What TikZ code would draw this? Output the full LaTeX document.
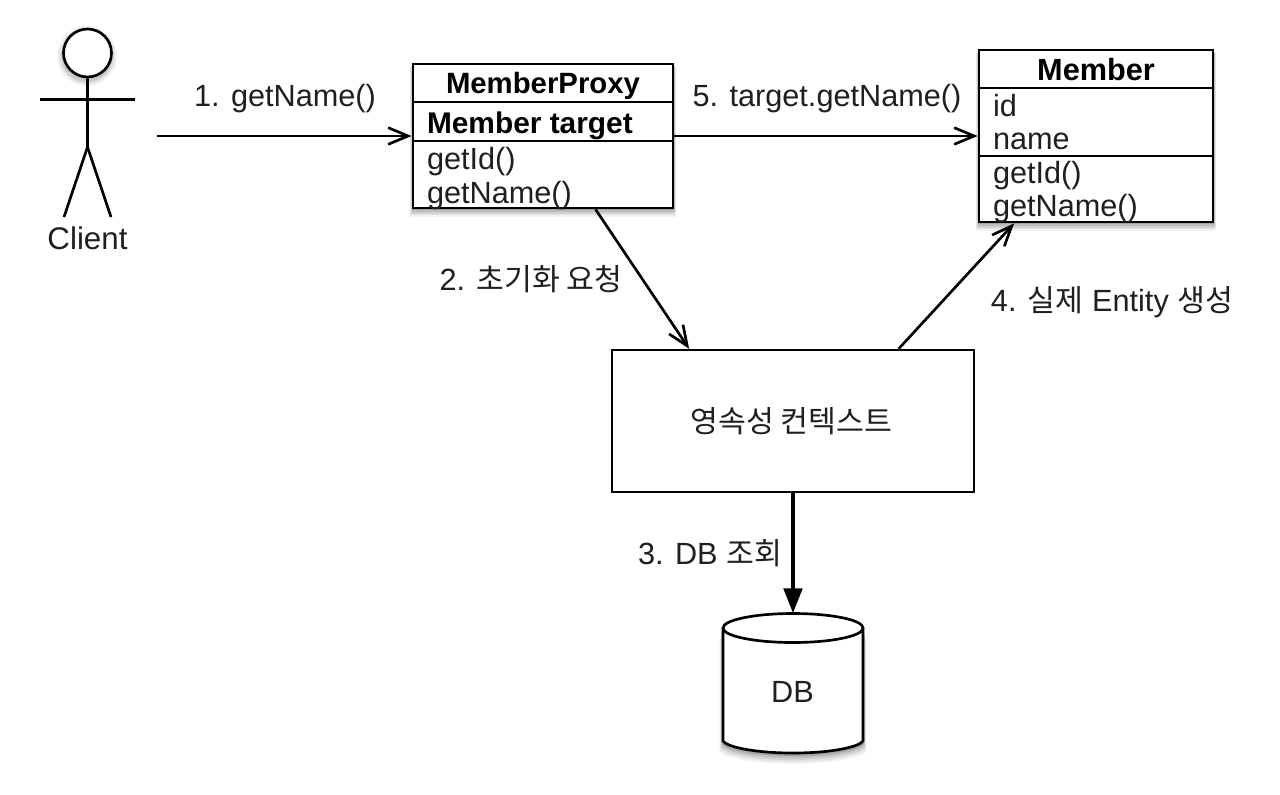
\documentclass[tikz,border=0pt]{standalone}
\usepackage{fontspec}
\setmainfont{Liberation Sans}
\newfontfamily\kofont{Noto Sans CJK KR}
\newcommand{\ko}[1]{{\kofont\fontsize{22.7pt}{26pt}\selectfont #1}}
\usetikzlibrary{arrows.meta,calc}
\tikzset{
  x=0.75pt,y=-0.75pt,
  ln/.style={line width=2pt,black},
  open/.style={ln,-{Straight Barb[length=15pt,width=12.5pt,line width=2pt]}},
  solidtip/.style={line width=2.4pt,black,-{Triangle[length=18.5pt,width=14pt]}},
  txt/.style={inner sep=0pt,outer sep=0pt,anchor=base,font=\fontsize{23pt}{26pt}\selectfont,text=black!88},
  ttl/.style={txt,text=black,font=\fontsize{22pt}{26pt}\selectfont\bfseries},
  lft/.style={txt,anchor=base west},
  box/.style={draw=black,line width=2.1pt,fill=white,inner sep=0pt},
}
\newcommand{\softshadow}[2]{%
  \foreach \o/\g in {11/0.05,9/0.06,7/0.08,5/0.1,3/0.14}{
    \fill[black,opacity=\g] ($#1+(-\o*0.3,\o*0.3)$) rectangle ($#2+(\o*0.3,\o*0.8)$);
  }}
\begin{document}
\begin{tikzpicture}
\useasboundingbox (0,0) rectangle (1280,794);
\softshadow{(413,64)}{(673,208)}
\softshadow{(979,50)}{(1213,222)}
\foreach \o/\g in {11/0.05,9/0.06,7/0.08,5/0.1,3/0.14}{
  \fill[black,opacity=\g,shift={(0,\o)}] (723-\o*0.3,628) -- (723-\o*0.3,741) .. controls (727,747) and (755,753) .. (793,753) .. controls (831,753) and (859,747) .. (863+\o*0.3,741) -- (863+\o*0.3,628) -- cycle;
}
\foreach \r/\g in {30/0.05,28/0.07,26/0.1}{
  \fill[black,opacity=\g] (87,56) circle[radius=\r];
}

% actor
\node[draw=black,line width=2pt,fill=white,circle,minimum size=36pt,inner sep=0pt] (head) at (87.5,53) {};
\coordinate (hip) at (87.5,147);
\coordinate (armL) at (40,99.5);
\coordinate (armR) at (135,99.5);
\coordinate (footL) at (64,217);
\coordinate (footR) at (111,217);
\draw[ln] (head.south) -- (hip) -- (footL);
\draw[ln] (hip) -- (footR);
\draw[ln] (armL) -- (armR);
\node[txt,font=\fontsize{23.5pt}{26pt}\selectfont] (client) at (87.5,249) {Client};

% proxy
\node[box,minimum width=195pt,minimum height=108pt] (proxy) at (543,136) {};
\coordinate (pa) at (413,102); \coordinate (pb) at (673,102);
\coordinate (pc) at (413,141); \coordinate (pd) at (673,141);
\draw[ln] (pa) -- (pb);
\draw[ln] (pc) -- (pd);
\node[ttl] (ptitle) at (543,93) {MemberProxy};
\node[lft,text=black,font=\fontsize{22.4pt}{26pt}\selectfont\bfseries] (ptarget) at (427,133) {Member target};
\node[lft] (pid) at (427,169) {getId()};
\node[lft] (pname) at (427,203) {getName()};

% member
\node[box,minimum width=175.5pt,minimum height=129pt] (member) at (1096,136) {};
\coordinate (ma) at (979,88); \coordinate (mb) at (1213,88);
\coordinate (mc) at (979,156); \coordinate (md) at (1213,156);
\draw[ln] (ma) -- (mb);
\draw[ln] (mc) -- (md);
\node[ttl,font=\fontsize{23pt}{26pt}\selectfont\bfseries] (mtitle) at (1096,80) {Member};
\node[lft] (mi) at (993,116) {id};
\node[lft] (mn) at (993,149) {name};
\node[lft] (mid) at (993,183) {getId()};
\node[lft] (mname) at (993,216) {getName()};

% context
\node[draw=black,line width=1.8pt,fill=white,minimum width=271.5pt,minimum height=106.5pt,inner sep=0pt] (ctx) at (793,421) {};
\node[txt] (ctxt) at (791.5,432) {\ko{영속성 컨텍스트}};

% db
\coordinate (dl) at (723,628); \coordinate (dr) at (863,628);
\draw[ln,fill=white] (dl) -- (723,741) .. controls (727,747) and (755,753) .. (793,753) .. controls (831,753) and (859,747) .. (863,741) -- (dr);
\draw[ln,fill=white] (793,628) ellipse[x radius=70,y radius=14.5];
\node[txt] (dbt) at (792.5,702) {DB};
\coordinate (dbtop) at (793,613);

% free end
\coordinate (start) at (157,136);
\draw[open] (start) -- (proxy.west);
\draw[open] (proxy.east) -- (member.west);
\draw[open] ($(proxy.south west)!0.70!(proxy.south east)$) -- ($(ctx.north west)!0.215!(ctx.north east)$);
\draw[open] ($(ctx.north west)!0.79!(ctx.north east)$) -- ($(member.south west)!0.154!(member.south east)$);
\draw[solidtip] (ctx.south) -- (dbtop);

% labels
\node[txt] (l1) at (285,106) {1. getName()};
\node[txt] (l5) at (827,106) {5. target.getName()};
\node[txt] (l2) at (531,290) {2. \ko{초기화 요청}};
\node[txt] (l3) at (710,564) {3. DB \ko{조회}};
\node[txt] (l4) at (1112,311) {4. \ko{실제} Entity \ko{생성}};
\end{tikzpicture}
\end{document}
